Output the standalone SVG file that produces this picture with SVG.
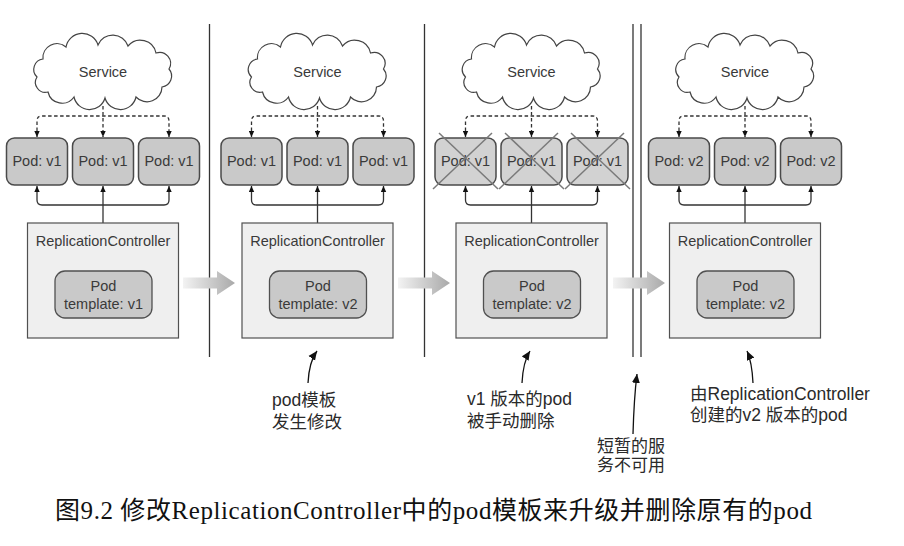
<svg xmlns="http://www.w3.org/2000/svg" xmlns:xlink="http://www.w3.org/1999/xlink" width="904" height="546" viewBox="0 0 904 546">
<style>
.t{font-family:"Liberation Sans","Noto Sans CJK SC",sans-serif;font-size:14.5px;fill:#3a3a3a;text-anchor:middle}
.a{font-family:"Liberation Sans","Noto Sans CJK SC",sans-serif;font-size:17.5px;fill:#2a2a2a}
.cap{font-family:"Liberation Serif","Noto Sans CJK SC",serif;font-size:25px;fill:#111}
.cloud{fill:#fff;stroke:#444;stroke-width:1.2}
.pod{fill:#c9c9c9;stroke:#4a4a4a;stroke-width:1.5}
.podx{fill:#d2d2d2;stroke:#4a4a4a;stroke-width:1.5}
.rc{fill:#efefef;stroke:#505050;stroke-width:1.2}
.tpl{fill:#c9c9c9;stroke:#505050;stroke-width:1.3}
.dash{fill:none;stroke:#333;stroke-width:1.3;stroke-dasharray:3.5 2.5}
.solid{fill:none;stroke:#333;stroke-width:1.3}
.sep{stroke:#333;stroke-width:1.3}
.x{stroke:#7a7a7a;stroke-width:1.5}
.ann{fill:none;stroke:#111;stroke-width:1.3}
.flow{fill:url(#g)}
</style>
<defs>
<marker id="ah" viewBox="0 0 10 10" refX="10" refY="5" markerWidth="6" markerHeight="6" markerUnits="userSpaceOnUse" orient="auto-start-reverse"><path d="M0,0.5 L10,5 L0,9.5 z" fill="#111"/></marker>
<marker id="ah2" viewBox="0 0 10 10" refX="10" refY="5" markerWidth="9" markerHeight="9" markerUnits="userSpaceOnUse" orient="auto"><path d="M0,0.5 L10,5 L0,9.5 z" fill="#111"/></marker>
<linearGradient id="g" x1="0" y1="0" x2="1" y2="0"><stop offset="0" stop-color="#f3f3f3"/><stop offset="1" stop-color="#a9a9a9"/></linearGradient>
<path id="cloud" d="M-66,6 A10.5,10.5 0 0 1 -60,-12 A14,14 0 0 1 -37,-24 A16.5,16.5 0 0 1 -5,-26 A16,16 0 0 1 25,-25 A16,16 0 0 1 53,-18 A11,11 0 0 1 66,-2 A11,11 0 0 1 59,16 A15,15 0 0 1 33,26 A16,16 0 0 1 2,27 A16,16 0 0 1 -29,26 A14.5,14.5 0 0 1 -55,21 A10,10 0 0 1 -66,6 Z"/>
<path id="flowarrow" d="M0,-5.5 H34 V-12 L52,0 L34,12 V5.5 H0 Z"/>
</defs>

<!-- separators -->
<g id="separators">
<line class="sep" x1="209.5" y1="24" x2="209.5" y2="357"/>
<line class="sep" x1="424.5" y1="24" x2="424.5" y2="357"/>
<line class="sep" x1="633" y1="24" x2="633" y2="357"/>
<line class="sep" x1="641" y1="24" x2="641" y2="357"/>
</g>

<!-- connectors -->
<g id="connectors">
<!-- panel 1 -->
<path class="dash" d="M103,106 V137" marker-end="url(#ah)"/>
<path class="dash" d="M37,137 V121 Q37,116 42,116 H164 Q169,116 169,121 V137" marker-start="url(#ah)" marker-end="url(#ah)"/>
<path class="solid" d="M103,223 V186" marker-end="url(#ah)"/>
<path class="solid" d="M37,186 V200 Q37,205 42,205 H164 Q169,205 169,200 V186" marker-start="url(#ah)" marker-end="url(#ah)"/>
<!-- panel 2 -->
<path class="dash" d="M317.5,106 V137" marker-end="url(#ah)"/>
<path class="dash" d="M251.5,137 V121 Q251.5,116 256.5,116 H378.5 Q383.5,116 383.5,121 V137" marker-start="url(#ah)" marker-end="url(#ah)"/>
<path class="solid" d="M317.5,223 V186" marker-end="url(#ah)"/>
<path class="solid" d="M251.5,186 V200 Q251.5,205 256.5,205 H378.5 Q383.5,205 383.5,200 V186" marker-start="url(#ah)" marker-end="url(#ah)"/>
<!-- panel 3 -->
<path class="dash" d="M531.5,106 V137" marker-end="url(#ah)"/>
<path class="dash" d="M465.5,137 V121 Q465.5,116 470.5,116 H592.5 Q597.5,116 597.5,121 V137" marker-start="url(#ah)" marker-end="url(#ah)"/>
<path class="solid" d="M531.5,223 V186" marker-end="url(#ah)"/>
<path class="solid" d="M465.5,186 V200 Q465.5,205 470.5,205 H592.5 Q597.5,205 597.5,200 V186" marker-start="url(#ah)" marker-end="url(#ah)"/>
<!-- panel 4 -->
<path class="dash" d="M745,106 V137" marker-end="url(#ah)"/>
<path class="dash" d="M679,137 V121 Q679,116 684,116 H806 Q811,116 811,121 V137" marker-start="url(#ah)" marker-end="url(#ah)"/>
<path class="solid" d="M745,223 V186" marker-end="url(#ah)"/>
<path class="solid" d="M679,186 V200 Q679,205 684,205 H806 Q811,205 811,200 V186" marker-start="url(#ah)" marker-end="url(#ah)"/>
<!-- flow arrows -->
<use href="#flowarrow" class="flow" transform="translate(183,283)"/>
<use href="#flowarrow" class="flow" transform="translate(398,283)"/>
<use href="#flowarrow" class="flow" transform="translate(613,283)"/>
<!-- annotation arrows -->
<path class="ann" d="M308,383 Q309,362 317,351" marker-end="url(#ah2)"/>
<path class="ann" d="M522,383 Q523,362 530,351" marker-end="url(#ah2)"/>
<path class="ann" d="M633,434 Q634,398 637,374" marker-end="url(#ah2)"/>
<path class="ann" d="M753,383 Q752,362 747,351" marker-end="url(#ah2)"/>
</g>

<!-- panel 1 -->
<g id="p1-service"><use href="#cloud" class="cloud" transform="translate(103,71)"/><text class="t" x="103" y="77">Service</text></g>
<g id="p1-pod1"><rect class="pod" x="6.5" y="138" width="61" height="47" rx="8"/><text class="t" x="37" y="166">Pod: v1</text></g>
<g id="p1-pod2"><rect class="pod" x="72.5" y="138" width="61" height="47" rx="8"/><text class="t" x="103" y="166">Pod: v1</text></g>
<g id="p1-pod3"><rect class="pod" x="138.5" y="138" width="61" height="47" rx="8"/><text class="t" x="169" y="166">Pod: v1</text></g>
<g id="p1-rc"><rect class="rc" x="27.5" y="223" width="151" height="115"/><text class="t" x="103" y="246">ReplicationController</text>
<rect class="tpl" x="55" y="271" width="97" height="47" rx="10"/><text class="t" x="103.5" y="290.5">Pod</text><text class="t" x="103.5" y="309">template: v1</text></g>

<!-- panel 2 -->
<g id="p2-service"><use href="#cloud" class="cloud" transform="translate(317.5,71)"/><text class="t" x="317.5" y="77">Service</text></g>
<g id="p2-pod1"><rect class="pod" x="221" y="138" width="61" height="47" rx="8"/><text class="t" x="251.5" y="166">Pod: v1</text></g>
<g id="p2-pod2"><rect class="pod" x="287" y="138" width="61" height="47" rx="8"/><text class="t" x="317.5" y="166">Pod: v1</text></g>
<g id="p2-pod3"><rect class="pod" x="353" y="138" width="61" height="47" rx="8"/><text class="t" x="383.5" y="166">Pod: v1</text></g>
<g id="p2-rc"><rect class="rc" x="242" y="223" width="151" height="115"/><text class="t" x="317.5" y="246">ReplicationController</text>
<rect class="tpl" x="269.5" y="271" width="97" height="47" rx="10"/><text class="t" x="318" y="290.5">Pod</text><text class="t" x="318" y="309">template: v2</text></g>

<!-- panel 3 -->
<g id="p3-service"><use href="#cloud" class="cloud" transform="translate(531.5,71)"/><text class="t" x="531.5" y="77">Service</text></g>
<g id="p3-pod1"><rect class="podx" x="435" y="138" width="61" height="47" rx="8"/><text class="t" x="465.5" y="166">Pod: v1</text><line class="x" x1="439" y1="133" x2="498" y2="189"/><line class="x" x1="492" y1="133" x2="433" y2="189"/></g>
<g id="p3-pod2"><rect class="podx" x="501" y="138" width="61" height="47" rx="8"/><text class="t" x="531.5" y="166">Pod: v1</text><line class="x" x1="505" y1="133" x2="564" y2="189"/><line class="x" x1="558" y1="133" x2="499" y2="189"/></g>
<g id="p3-pod3"><rect class="podx" x="567" y="138" width="61" height="47" rx="8"/><text class="t" x="597.5" y="166">Pod: v1</text><line class="x" x1="571" y1="133" x2="630" y2="189"/><line class="x" x1="624" y1="133" x2="565" y2="189"/></g>
<g id="p3-rc"><rect class="rc" x="456" y="223" width="151" height="115"/><text class="t" x="531.5" y="246">ReplicationController</text>
<rect class="tpl" x="483.5" y="271" width="97" height="47" rx="10"/><text class="t" x="532" y="290.5">Pod</text><text class="t" x="532" y="309">template: v2</text></g>

<!-- panel 4 -->
<g id="p4-service"><use href="#cloud" class="cloud" transform="translate(745,71)"/><text class="t" x="745" y="77">Service</text></g>
<g id="p4-pod1"><rect class="pod" x="648.5" y="138" width="61" height="47" rx="8"/><text class="t" x="679" y="166">Pod: v2</text></g>
<g id="p4-pod2"><rect class="pod" x="714.5" y="138" width="61" height="47" rx="8"/><text class="t" x="745" y="166">Pod: v2</text></g>
<g id="p4-pod3"><rect class="pod" x="780.5" y="138" width="61" height="47" rx="8"/><text class="t" x="811" y="166">Pod: v2</text></g>
<g id="p4-rc"><rect class="rc" x="669.5" y="223" width="151" height="115"/><text class="t" x="745" y="246">ReplicationController</text>
<rect class="tpl" x="697" y="271" width="97" height="47" rx="10"/><text class="t" x="745.5" y="290.5">Pod</text><text class="t" x="745.5" y="309">template: v2</text></g>

<!-- annotations -->
<g id="note1"><text class="a" x="272" y="406">pod模板</text><text class="a" x="272" y="428">发生修改</text></g>
<g id="note2"><text class="a" x="467" y="405">v1 版本的pod</text><text class="a" x="467" y="427">被手动删除</text></g>
<g id="note3"><text class="a" x="597" y="452" style="font-size:17px">短暂的服<tspan x="597" dy="19">务不可用</tspan></text></g>
<g id="note4"><text class="a" x="690" y="400">由ReplicationController</text><text class="a" x="690" y="421">创建的v2 版本的pod</text></g>

<g id="caption"><text class="cap" x="55" y="519" textLength="757" lengthAdjust="spacing">图9.2 修改ReplicationController中的pod模板来升级并删除原有的pod</text></g>
</svg>
